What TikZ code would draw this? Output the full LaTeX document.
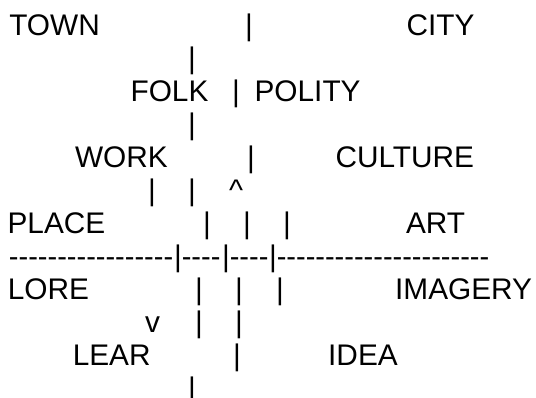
\documentclass[tikz,border=0pt]{standalone}
\usepackage{fontspec}
\setmainfont{Liberation Sans}
\begin{document}
\begin{tikzpicture}[x=1pt,y=1pt,
  txt/.style={inner sep=0pt,outer sep=0pt,anchor=base west,font=\fontsize{29.8}{33}\selectfont},
  dsh/.style={inner sep=0pt,outer sep=0pt,anchor=base west,font=\fontsize{29}{33}\selectfont},
  bar/.style={inner sep=0pt,outer sep=0pt,anchor=base,font=\fontsize{29.8}{33}\selectfont}]
\useasboundingbox[fill=white] (0,0) rectangle (536,-398);
% row 1
\node[txt] (town) at (9.3,-35.5) {TOWN};
\node[bar] (b1) at (249,-35.5) {|};
\node[txt] (city) at (406.6,-35.5) {CITY};
% row 2
\node[bar] (b2) at (192,-68.5) {|};
% row 3
\node[txt] (folk) at (130.6,-101.5) {FOLK};
\node[bar] (b3) at (236,-101.5) {|};
\node[txt] (polity) at (254.6,-101.5) {POLITY};
% row 4
\node[bar] (b4) at (192,-134.5) {|};
% row 5
\node[txt] (work) at (75,-167.5) {WORK};
\node[bar] (b5) at (251,-167.5) {|};
\node[txt] (culture) at (335.5,-167.5) {CULTURE};
% row 6
\node[bar] (b6a) at (152,-200.5) {|};
\node[bar] (b6b) at (192,-200.5) {|};
\node[bar] (up) at (236,-200.5) {\^{}};
% row 7
\node[txt] (place) at (7.6,-233.5) {PLACE};
\node[bar] (b7a) at (207,-233.5) {|};
\node[bar] (b7b) at (247,-233.5) {|};
\node[bar] (b7c) at (287,-233.5) {|};
\node[txt] (art) at (406,-233.5) {ART};
% row 8
\node[dsh] (d1) at (9,-266.5) {-{}-{}-{}-{}-{}-{}-{}-{}-{}-{}-{}-{}-{}-{}-{}-{}-};
\node[bar] (b8a) at (178,-266.5) {|};
\node[dsh] (d2) at (181.8,-266.5) {-{}-{}-{}-};
\node[bar] (b8b) at (226,-266.5) {|};
\node[dsh] (d3) at (229.8,-266.5) {-{}-{}-{}-};
\node[bar] (b8c) at (273,-266.5) {|};
\node[dsh] (d4) at (276.8,-266.5) {-{}-{}-{}-{}-{}-{}-{}-{}-{}-{}-{}-{}-{}-{}-{}-{}-{}-{}-{}-{}-{}-};
% row 9
\node[txt] (lore) at (7.8,-299.5) {LORE};
\node[bar] (b9a) at (199,-299.5) {|};
\node[bar] (b9b) at (239,-299.5) {|};
\node[bar] (b9c) at (280,-299.5) {|};
\node[txt] (imagery) at (395.2,-299.5) {IMAGERY};
% row 10
\node[bar] (down) at (152.5,-332.5) {v};
\node[bar] (b10a) at (199,-332.5) {|};
\node[bar] (b10b) at (239,-332.5) {|};
% row 11
\node[txt] (lear) at (72.8,-365.5) {LEAR};
\node[bar] (b11) at (237,-365.5) {|};
\node[txt] (idea) at (328.2,-365.5) {IDEA};
% row 12
\node[bar] (b12) at (192,-398.5) {|};
\end{tikzpicture}
\end{document}
